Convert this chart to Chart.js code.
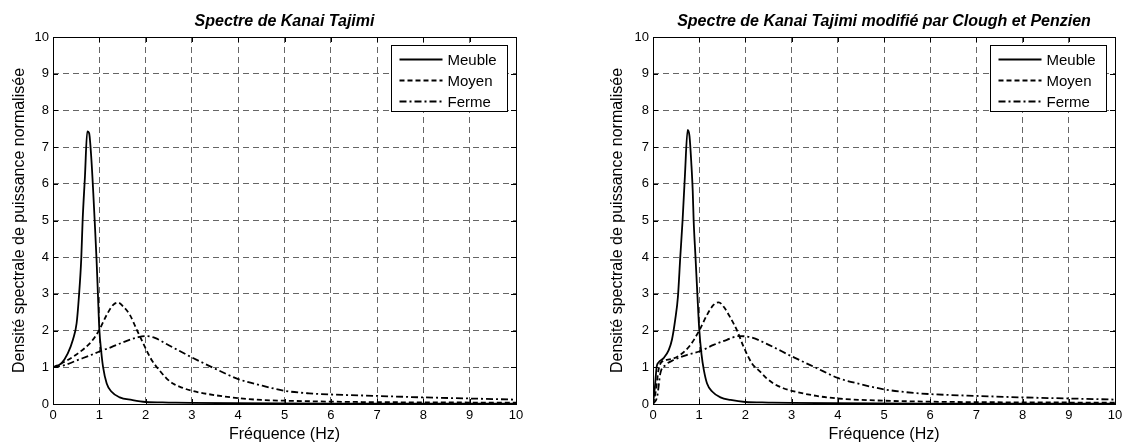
<!DOCTYPE html>
<html lang="fr">
<head>
<meta charset="UTF-8">
<title>Spectres de Kanai Tajimi</title>
<script src="https://cdn.jsdelivr.net/npm/chart.js"></script>
<style>
  body { margin: 0; background: #fff; }
  #wrap { position: relative; width: 1127px; height: 445px; overflow: hidden; }
  canvas { position: absolute; top: 0; }
  #chartKT { left: 0; }
  #chartCP { left: 598px; }
</style>
</head>
<body>
<div id="wrap">
  <canvas id="chartKT" width="598" height="445"></canvas>
  <canvas id="chartCP" width="529" height="445"></canvas>
</div>
<script>
// --- donnees ---
const seriesNames = ['Meuble', 'Moyen', 'Ferme'];
const titleKT = 'Spectre de Kanai Tajimi';
const titleCP = 'Spectre de Kanai Tajimi modifié par Clough et Penzien';
const xAxisTitle = 'Fréquence (Hz)';
const yAxisTitle = 'Densité spectrale de puissance normalisée';
const xTickLabels = ['0', '1', '2', '3', '4', '5', '6', '7', '8', '9', '10'];
const yTickLabels = ['0', '1', '2', '3', '4', '5', '6', '7', '8', '9', '10'];

// Kanai Tajimi
const fMeubleKT = [0, 0.18, 0.32, 0.43, 0.51, 0.56, 0.61, 0.64, 0.69, 0.74, 0.78, 0.83, 0.87, 0.9, 0.94, 0.97, 1.0, 1.04, 1.08, 1.16, 1.26, 1.44, 1.7, 2.0, 2.5, 3, 4, 5, 6, 8, 10];
const vMeubleKT = [1.0, 1.11, 1.38, 1.75, 2.2, 2.93, 3.95, 5.0, 6.2, 7.43, 7.38, 6.65, 5.75, 5.0, 3.95, 3.0, 2.05, 1.45, 1.02, 0.56, 0.34, 0.18, 0.11, 0.055, 0.04, 0.03, 0.02, 0.015, 0.012, 0.01, 0.008];
const fMoyenKT = [0, 0.25, 0.54, 0.83, 1.0, 1.16, 1.3, 1.41, 1.52, 1.66, 1.81, 1.95, 2.13, 2.31, 2.45, 2.6, 2.8, 3.0, 3.5, 4.0, 4.5, 5.0, 6.0, 7, 8, 9, 10];
const vMoyenKT = [1.0, 1.15, 1.38, 1.7, 2.02, 2.43, 2.7, 2.76, 2.65, 2.43, 2.02, 1.65, 1.2, 0.9, 0.7, 0.55, 0.44, 0.36, 0.24, 0.16, 0.11, 0.09, 0.065, 0.05, 0.045, 0.04, 0.035];
const fFermeKT = [0, 0.25, 0.54, 0.83, 1.0, 1.26, 1.55, 1.84, 2.0, 2.2, 2.5, 3.0, 3.52, 4.0, 4.52, 5.0, 5.53, 6.0, 7, 8, 9, 10];
const vFermeKT = [1.0, 1.06, 1.2, 1.34, 1.43, 1.55, 1.7, 1.82, 1.85, 1.8, 1.6, 1.27, 0.95, 0.68, 0.5, 0.36, 0.29, 0.26, 0.22, 0.18, 0.15, 0.12];

// Clough et Penzien
const fMeubleCP = [0, 0.04, 0.08, 0.12, 0.23, 0.34, 0.41, 0.48, 0.54, 0.59, 0.64, 0.69, 0.75, 0.79, 0.83, 0.86, 0.88, 0.92, 0.96, 1.0, 1.05, 1.1, 1.17, 1.28, 1.46, 1.68, 2.0, 2.5, 3, 4, 5, 6, 8, 10];
const vMeubleCP = [0, 0.45, 1.02, 1.13, 1.25, 1.47, 1.75, 2.29, 2.93, 4.0, 5.0, 6.2, 7.47, 7.3, 6.55, 5.8, 5.0, 4.0, 3.0, 2.05, 1.35, 0.93, 0.56, 0.34, 0.18, 0.11, 0.055, 0.04, 0.03, 0.02, 0.015, 0.012, 0.01, 0.008];
const fMoyenCP = [0, 0.06, 0.12, 0.19, 0.38, 0.59, 0.81, 1.0, 1.17, 1.31, 1.42, 1.53, 1.68, 1.82, 1.96, 2.14, 2.32, 2.46, 2.62, 2.82, 3.0, 3.54, 4.0, 5.0, 6.0, 7, 8, 9, 10];
const vMoyenCP = [0, 0.35, 0.93, 1.15, 1.22, 1.34, 1.61, 2.0, 2.43, 2.7, 2.77, 2.65, 2.34, 2.0, 1.56, 1.11, 0.88, 0.7, 0.55, 0.43, 0.36, 0.22, 0.15, 0.09, 0.064, 0.05, 0.045, 0.04, 0.035];
const fFermeCP = [0, 0.09, 0.16, 0.27, 0.45, 0.74, 1.0, 1.31, 1.6, 1.86, 2.11, 2.46, 3.0, 3.54, 4.0, 4.49, 5.0, 5.49, 6.0, 7, 8, 9, 10];
const vFermeCP = [0, 0.2, 0.84, 1.06, 1.2, 1.34, 1.43, 1.61, 1.75, 1.85, 1.82, 1.64, 1.3, 0.98, 0.71, 0.54, 0.4, 0.32, 0.27, 0.22, 0.18, 0.15, 0.12];

const FONT = "'Liberation Sans', Arial, sans-serif";
const dashes = [[], [5, 3], [7, 3, 2, 3]];

function pts(fs, vs) {
  return fs.map((f, i) => ({ x: f, y: vs[i] }));
}

function makeDatasets(list) {
  return list.map((s, i) => ({
    label: seriesNames[i],
    data: pts(s[0], s[1]),
    borderColor: '#000',
    borderWidth: 1.8,
    borderDash: dashes[i],
    pointRadius: 0,
    cubicInterpolationMode: 'monotone',
    fill: false
  }));
}

// cadre, petites graduations, legende et titre facon MATLAB
const matlabPlugin = {
  id: 'matlabBox',
  afterDatasetsDraw(chart, args, opts) {
    const { ctx, chartArea: a, scales } = chart;
    ctx.save();
    ctx.strokeStyle = '#000';
    ctx.lineWidth = 1;
    ctx.setLineDash([]);
    ctx.beginPath();
    scales.x.ticks.forEach(t => {
      const px = Math.round(scales.x.getPixelForValue(t.value)) + 0.5;
      ctx.moveTo(px, a.bottom); ctx.lineTo(px, a.bottom - 5);
      ctx.moveTo(px, a.top); ctx.lineTo(px, a.top + 5);
    });
    scales.y.ticks.forEach(t => {
      const py = Math.round(scales.y.getPixelForValue(t.value)) + 0.5;
      ctx.moveTo(a.left, py); ctx.lineTo(a.left + 5, py);
      ctx.moveTo(a.right, py); ctx.lineTo(a.right - 5, py);
    });
    ctx.stroke();
    ctx.strokeRect(Math.round(a.left) + 0.5, Math.round(a.top) + 0.5, Math.round(a.width), Math.round(a.height));

    // legende dans le coin haut droit
    const bw = 116, bh = 66;
    const bx = Math.round(a.right - 9 - bw) + 0.5;
    const by = Math.round(a.top + 8) + 0.5;
    ctx.fillStyle = '#fff';
    ctx.fillRect(bx, by, bw, bh);
    ctx.strokeRect(bx, by, bw, bh);
    ctx.font = '15px ' + FONT;
    ctx.textBaseline = 'middle';
    chart.data.datasets.forEach((ds, i) => {
      const y = by + 14 + i * 21;
      ctx.save();
      ctx.lineWidth = ds.borderWidth;
      ctx.setLineDash(ds.borderDash);
      ctx.beginPath();
      ctx.moveTo(bx + 8, y);
      ctx.lineTo(bx + 51, y);
      ctx.stroke();
      ctx.restore();
      ctx.fillStyle = '#000';
      ctx.fillText(ds.label, bx + 56, y + 1);
    });
    ctx.restore();
  },
  afterDraw(chart, args, opts) {
    const { ctx, chartArea: a } = chart;
    ctx.save();
    ctx.font = 'italic bold 16px ' + FONT;
    ctx.fillStyle = '#000';
    ctx.textAlign = 'center';
    ctx.textBaseline = 'middle';
    ctx.fillText(opts.text, (a.left + a.right) / 2, 22);
    ctx.restore();
  }
};

function makeChart(id, title, list, yWidth, padRight) {
  return new Chart(document.getElementById(id), {
    type: 'line',
    data: { datasets: makeDatasets(list) },
    plugins: [matlabPlugin],
    options: {
      responsive: false,
      animation: false,
      layout: { padding: { top: 37, right: padRight, bottom: 0, left: 0 } },
      plugins: {
        legend: { display: false },
        tooltip: { enabled: false },
        matlabBox: { text: title }
      },
      scales: {
        x: {
          type: 'linear',
          min: 0, max: 10,
          afterFit(s) { s.height = 41; },
          ticks: {
            stepSize: 1, autoSkip: false, maxRotation: 0, padding: 4,
            color: '#000', font: { family: FONT, size: 13 },
            callback: v => xTickLabels[v]
          },
          grid: { color: '#666', lineWidth: 1, drawTicks: false },
          border: { display: false, dash: [6, 4] },
          title: {
            display: true, text: xAxisTitle, color: '#000',
            font: { family: FONT, size: 16 }, padding: { top: 0, bottom: 1 }
          }
        },
        y: {
          min: 0, max: 10,
          afterFit(s) { s.width = yWidth; },
          ticks: {
            stepSize: 1, padding: 4,
            color: '#000', font: { family: FONT, size: 13 },
            callback: v => yTickLabels[v]
          },
          grid: { color: '#666', lineWidth: 1, drawTicks: false },
          border: { display: false, dash: [6, 4] },
          title: {
            display: true, text: yAxisTitle, color: '#000',
            font: { family: FONT, size: 16 }, padding: { top: 10, bottom: 0 }
          }
        }
      }
    }
  });
}

makeChart('chartKT', titleKT, [
  [fMeubleKT, vMeubleKT], [fMoyenKT, vMoyenKT], [fFermeKT, vFermeKT]
], 53, 82);

makeChart('chartCP', titleCP, [
  [fMeubleCP, vMeubleCP], [fMoyenCP, vMoyenCP], [fFermeCP, vFermeCP]
], 55, 12);
</script>
</body>
</html>
